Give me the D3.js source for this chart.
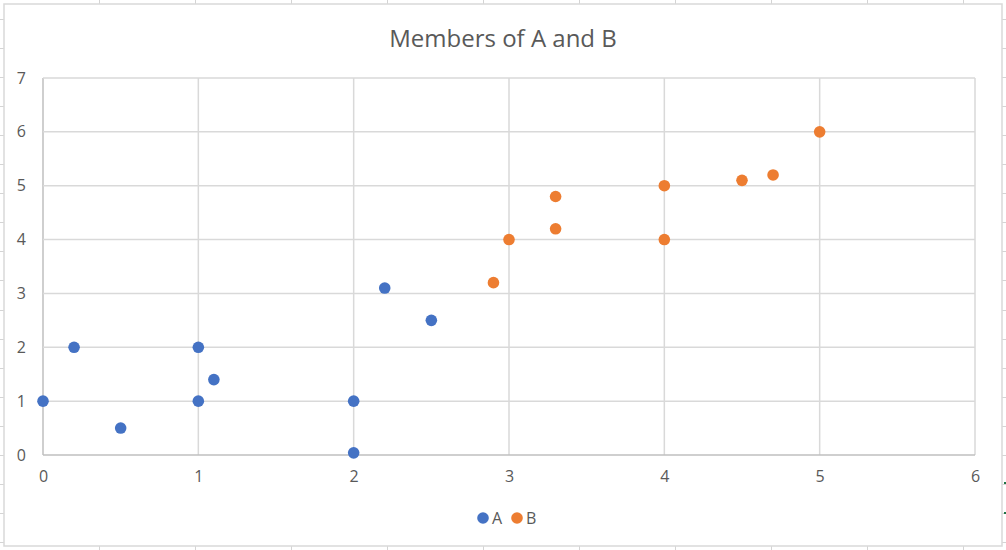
<!DOCTYPE html>
<html>
<head>
<meta charset="utf-8">
<script src="https://cdn.jsdelivr.net/npm/d3@7"></script>
<style>
  body { margin: 0; background: #fff; }
  svg { display: block; font-family: "Open Sans", "Liberation Sans", sans-serif; }
</style>
</head>
<body>
<svg width="1006" height="550"></svg>
<script>
// series data
var series_names = ['A', 'B']
var series_colors = ['#4472C4', '#ED7D31']
var a_x = [0, 0.2, 0.5, 1, 1, 1.1, 2, 2, 2.2, 2.5]
var a_y = [1, 2, 0.5, 1, 2, 1.4, 0.04, 1, 3.1, 2.5]
var b_x = [2.9, 3, 3.3, 3.3, 4, 4, 4.5, 4.7, 5]
var b_y = [3.2, 4, 4.2, 4.8, 4, 5, 5.1, 5.2, 6]
var x_ticks = [0, 1, 2, 3, 4, 5, 6]
var y_ticks = [0, 1, 2, 3, 4, 5, 6, 7]
var title = 'Members of A and B'

var svg = d3.select('svg')
var width = 1006, height = 550

// spreadsheet cells peeking out behind the chart
var sheet = svg.append('g').attr('stroke', '#d4d4d4').attr('stroke-width', 1)
d3.range(99, width, 96).forEach((x) => {
  sheet.append('line').attr('x1', x + .5).attr('x2', x + .5).attr('y1', 0).attr('y2', height)
})
d3.range(19, height, 29.05).forEach((y) => {
  sheet.append('line').attr('x1', 0).attr('x2', width).attr('y1', Math.round(y) + .5).attr('y2', Math.round(y) + .5)
})

// chart box
svg.append('rect')
  .attr('x', 4).attr('y', 4)
  .attr('width', 998).attr('height', 542)
  .attr('fill', '#fff')
  .attr('stroke', '#d9d9d9')
  .attr('stroke-width', 1.5)

svg.append('rect').attr('x', 1004).attr('y', 482).attr('width', 2).attr('height', 2).attr('fill', '#217346')
svg.append('rect').attr('x', 1004).attr('y', 512).attr('width', 2).attr('height', 2).attr('fill', '#217346')

var x = d3.scaleLinear().domain([0, 6]).range([43, 975])
var y = d3.scaleLinear().domain([0, 7]).range([455, 78])

// gridlines
var grid = svg.append('g')
grid.selectAll('.vgrid')
  .data(x_ticks)
  .enter()
    .append('line')
    .attr('class', 'vgrid')
    .attr('x1', (d) => x(d)).attr('x2', (d) => x(d))
    .attr('y1', y(7)).attr('y2', y(0))
    .attr('stroke', (d) => d === 0 ? '#bfbfbf' : '#d9d9d9')
    .attr('stroke-width', 1.5)
grid.selectAll('.hgrid')
  .data(y_ticks)
  .enter()
    .append('line')
    .attr('class', 'hgrid')
    .attr('x1', x(0)).attr('x2', x(6))
    .attr('y1', (d) => y(d)).attr('y2', (d) => y(d))
    .attr('stroke', (d) => d === 0 ? '#bfbfbf' : '#d9d9d9')
    .attr('stroke-width', 1.5)

// axes, labels only
var x_axis = svg.append('g')
  .attr('transform', 'translate(0,' + y(0) + ')')
  .call(d3.axisBottom(x).tickValues(x_ticks).tickSize(0).tickPadding(16).tickFormat(d3.format('d')))
var y_axis = svg.append('g')
  .attr('transform', 'translate(' + x(0) + ',0)')
  .call(d3.axisLeft(y).tickValues(y_ticks).tickSize(0).tickPadding(17).tickFormat(d3.format('d')))

;[x_axis, y_axis].forEach((ax) => {
  ax.select('.domain').remove()
  ax.attr('font-size', null).attr('font-family', null)
  ax.selectAll('text').attr('fill', '#595959').style('font-size', '16px')
})

// title
svg.append('text')
  .attr('x', 503).attr('y', 47)
  .attr('text-anchor', 'middle')
  .attr('fill', '#595959')
  .style('font-size', '24px')
  .text(title)

// points
var points = [
  a_x.map((d, i) => ({ x: d, y: a_y[i], s: 0 })),
  b_x.map((d, i) => ({ x: d, y: b_y[i], s: 1 }))
]
points.forEach((list) => {
  svg.append('g').selectAll('circle')
    .data(list)
    .enter()
      .append('circle')
      .attr('cx', (d) => x(d.x))
      .attr('cy', (d) => y(d.y))
      .attr('r', 5.8)
      .attr('fill', (d) => series_colors[d.s])
})

// legend
var legend = svg.append('g').attr('transform', 'translate(0,518)')
var lx = [483, 517]
series_names.forEach((name, i) => {
  legend.append('circle').attr('cx', lx[i]).attr('cy', 0).attr('r', 5.8).attr('fill', series_colors[i])
  legend.append('text')
    .attr('x', lx[i] + 9).attr('y', 6)
    .attr('fill', '#595959').style('font-size', '16px')
    .text(name)
})
</script>
</body>
</html>
